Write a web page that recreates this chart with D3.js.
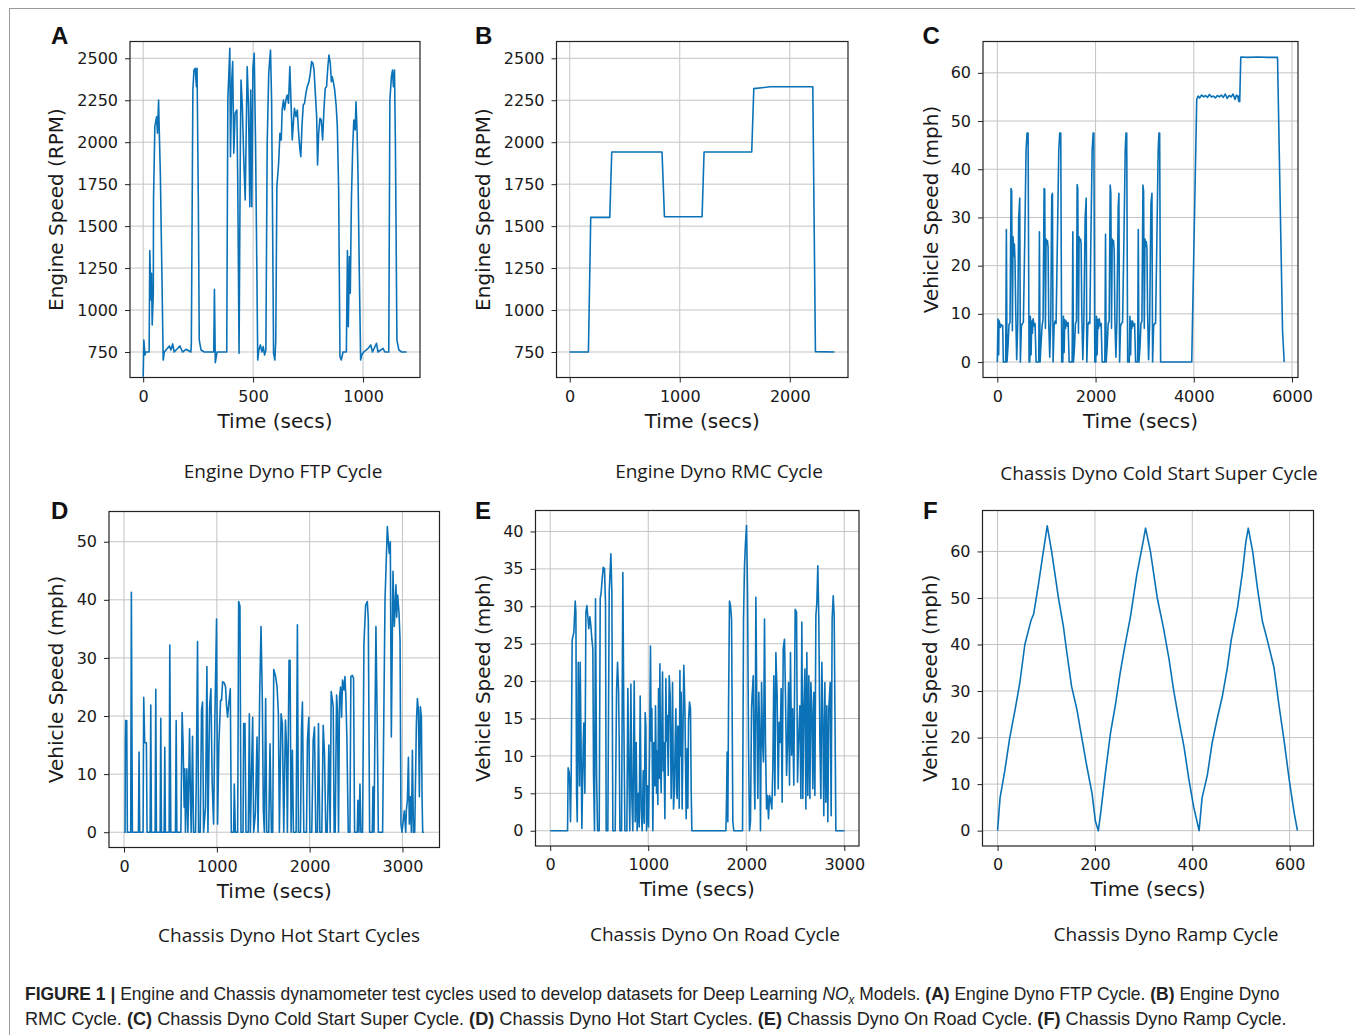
<!DOCTYPE html>
<html><head><meta charset="utf-8">
<script src="https://cdn.jsdelivr.net/npm/d3@7"></script>
<style>body{margin:0;background:#fff}</style>
</head><body>
<script>
// ---------------- DATA ----------------
// A: Engine Dyno FTP Cycle  [time (s), engine speed (RPM)]
const ftpCycle = [[0,603],[3,821],[8,732],[12,750],[27,750],[30,1354],[35,1060],[38,1219],[41,911],[46,1100],[47,1656],[53,2093],[61,2152],[65,2053],[70,2251],[73,2073],[78,1815],[85,1219],[91,702],[96,750],[119,786],[126,762],[134,798],[141,750],[167,786],[179,750],[195,766],[217,750],[219,800],[226,2311],[231,2430],[237,2440],[242,2331],[245,2440],[251,1616],[255,821],[263,762],[278,750],[321,750],[324,1123],[328,686],[336,750],[380,750],[385,2251],[394,2559],[397,1914],[403,2371],[407,2480],[412,1934],[418,2172],[426,2192],[430,1775],[436,742],[442,1993],[445,2371],[451,2212],[457,1914],[464,1656],[468,2013],[473,2450],[479,2212],[485,1616],[489,2311],[494,1616],[499,2440],[505,2529],[511,1993],[515,1497],[521,702],[526,762],[533,792],[540,750],[546,782],[552,732],[558,762],[564,1993],[571,2410],[579,2549],[584,2251],[588,1616],[593,742],[599,702],[603,821],[608,1735],[616,1874],[622,2053],[628,2013],[632,2192],[638,2251],[643,2192],[649,2251],[655,2281],[661,2232],[667,2450],[673,2212],[678,2013],[684,2132],[688,2202],[695,2152],[701,2192],[707,2053],[713,1953],[717,1914],[722,2093],[728,2222],[734,2232],[740,2291],[746,2331],[754,2361],[760,2410],[766,2480],[772,2470],[777,2430],[783,2291],[789,2152],[793,1864],[798,2053],[804,2142],[810,2132],[816,2013],[822,2192],[828,2321],[834,2331],[840,2450],[845,2519],[851,2470],[856,2361],[860,2390],[866,2351],[871,2311],[878,2212],[883,2093],[889,1715],[895,722],[901,702],[909,750],[924,750],[929,1354],[933,901],[938,1318],[942,1100],[947,1656],[953,1973],[958,2132],[964,2073],[968,2241],[973,2053],[977,1815],[983,1219],[989,702],[994,732],[1003,750],[1023,772],[1035,792],[1043,750],[1061,802],[1068,750],[1091,772],[1099,750],[1117,750],[1122,2251],[1129,2390],[1134,2430],[1138,2331],[1143,2430],[1147,2013],[1154,821],[1163,762],[1175,750],[1198,750]];

// B: Engine Dyno RMC Cycle
const rmcCycle = [[0,750],[170,750],[191,1552],[364,1552],[382,1942],[839,1942],[861,1556],[1203,1556],[1221,1942],[1654,1942],[1673,2319],[1821,2330],[2209,2330],[2233,752],[2406,750]];

// C: Chassis Dyno Cold Start Super Cycle [time (s), vehicle speed (mph)]
const coldSuperCycle = [
[0,0],[14,8.9],[27,1.5],[34,8.6],[48,8],[61,7.2],[75,7.8],[95,7.5],[109,7.6],[122,0],[170,0],[184,27.5],[197,0],[218,3.5],[238,7.8],[258,8.2],[279,36],[292,35.5],[306,6.5],[320,26],[333,22],[347,24.5],[360,21],[374,11],[394,0.5],[415,8],[435,30],[456,34],[469,0],[490,7.5],[510,8],[530,8.2],[558,25],[585,44],[605,47.5],[626,47.5],[646,0],
[660,0],[673,9.5],[687,1.5],[700,8.5],[714,6],[728,9],[748,7.5],[768,8],[789,0],[843,0],[857,27],[870,0],[891,4],[911,7.5],[931,8.8],[952,36],[965,35.8],[979,7],[992,25.5],[1006,24.5],[1020,25.2],[1033,23.8],[1047,8],[1067,1],[1088,9],[1108,34.5],[1122,35],[1135,0],[1156,7.5],[1176,8.5],[1196,8],[1224,26],[1251,44],[1271,47.5],[1291,47.5],[1311,0],
[1333,0],[1346,9.5],[1360,2],[1373,8.8],[1387,7],[1400,8.5],[1421,7.5],[1441,8.2],[1462,0],[1523,0],[1537,27],[1550,0],[1570,3],[1591,8],[1611,8.5],[1625,36.8],[1638,36],[1652,6],[1665,26],[1679,25.3],[1693,25.5],[1706,24.5],[1720,10],[1740,0.5],[1761,8],[1788,30],[1809,34],[1822,0],[1842,7.5],[1862,8.3],[1883,8],[1904,25],[1931,44],[1951,47.5],[1965,47.5],[1985,0],
[2005,0],[2019,9.5],[2032,1.5],[2046,8.8],[2060,7],[2073,9],[2094,7.5],[2114,8],[2134,0],[2189,0],[2203,26.5],[2216,0],[2237,3.5],[2257,8],[2277,8.5],[2298,36.7],[2311,35],[2325,7],[2339,25.5],[2352,25],[2366,25.2],[2380,23],[2393,9],[2414,1],[2434,8.5],[2461,32],[2475,35],[2489,0],[2509,7.5],[2529,8],[2550,8.3],[2577,25],[2604,44],[2620,47.5],[2634,47.5],[2654,0],
[2686,0],[2700,9.5],[2713,1.5],[2727,8.5],[2740,7],[2754,8.5],[2774,7.5],[2795,8],[2815,0],[2856,0],[2870,27.5],[2883,0],[2904,3],[2924,8],[2944,8.5],[2965,36.7],[2978,35.5],[2992,7],[3006,25.5],[3019,24],[3033,25],[3046,23.5],[3060,10],[3080,0.5],[3101,8],[3128,33],[3148,35],[3161,0],[3182,7.5],[3202,8],[3222,8],[3248,25],[3275,44],[3291,47.5],[3305,47.5],[3325,0],
[3958,0],[4060,54.5],[4090,55.2],[4120,54.8],[4160,55.4],[4200,55],[4240,55.3],[4280,54.9],[4320,55.5],[4360,55],[4400,55.2],[4440,54.8],[4480,55.3],[4520,55],[4560,55.4],[4600,54.9],[4640,55.6],[4680,54.7],[4720,55.3],[4760,55],[4800,55.6],[4840,54.5],[4870,55.4],[4900,55],[4915,54.1],[4925,55.3],[4935,54],[4957,63.3],[5100,63.2],[5300,63.3],[5500,63.2],[5705,63.2],[5807,6.6],[5841,0]];

// D: Chassis Dyno Hot Start Cycles
const hotStartCycles = [[0,0],[11,0],[14,15.8],[18,19.2],[29,19.2],[36,0],[72,0],[79,41.3],[90,0],[155,0],[162,13.8],[169,0],[205,0],[212,23.2],[223,15.4],[241,15.4],[248,0],[281,0],[288,21.9],[295,0],[335,0],[342,24.6],[349,0],[389,0],[396,19.6],[403,0],[432,0],[439,14.6],[446,0],[486,0],[493,32.2],[504,0],[554,0],[562,19.2],[569,0],[612,0],[626,20.6],[637,14.7],[648,4.3],[655,10.9],[662,0],[677,10.9],[688,0],[706,17.8],[716,5.5],[724,0],[738,16.5],[749,0],[770,0],[778,8.3],[792,32.8],[803,0],[821,0],[835,21],[846,22.4],[857,0],[878,4.3],[893,28.5],[904,0],[922,21.6],[936,24.7],[950,8.3],[965,1.4],[979,19.8],[997,36.7],[1008,1.4],[1022,15.2],[1040,22.7],[1051,22.7],[1062,25.9],[1080,25.7],[1094,25],[1105,21.6],[1116,19.8],[1130,22.4],[1145,24.7],[1156,0],[1181,0],[1188,8.3],[1199,0],[1224,0],[1235,39.7],[1249,38.9],[1260,0],[1282,0],[1289,18.7],[1303,18.7],[1314,0],[1339,0],[1350,20.4],[1361,0],[1386,19.8],[1397,0],[1415,3.2],[1433,16.4],[1444,0],[1462,24.2],[1476,35.4],[1490,22.7],[1501,3.7],[1512,0],[1526,23],[1537,0],[1559,0],[1573,15.2],[1588,0],[1602,0],[1613,28],[1631,27],[1649,25],[1663,20.4],[1674,0],[1692,20.4],[1706,18.7],[1721,0],[1739,19.3],[1750,15.2],[1760,0],[1778,29.6],[1789,29.6],[1800,0],[1814,14.1],[1825,0],[1854,0],[1868,35.7],[1879,0],[1901,0],[1912,17.8],[1922,22.4],[1937,0],[1966,0],[1976,15.8],[1991,19.8],[2002,0],[2023,0],[2038,15.8],[2052,18.1],[2066,0],[2084,0],[2095,18.7],[2110,0],[2131,0],[2146,18.4],[2160,13.5],[2174,0],[2189,0],[2207,15],[2221,0],[2232,24.2],[2243,23],[2254,21.6],[2264,0],[2275,0],[2290,23.6],[2300,20.7],[2311,0],[2322,23.3],[2333,25],[2344,19.8],[2354,26.2],[2369,24.5],[2380,26.8],[2390,23.3],[2401,16.4],[2416,0],[2434,0],[2444,26.8],[2459,27],[2473,26.5],[2484,0],[2513,0],[2520,5.5],[2531,0],[2542,8.3],[2552,0],[2570,0],[2585,32.5],[2603,39.1],[2621,39.7],[2632,36.5],[2646,0],[2675,0],[2682,7.8],[2693,0],[2714,35.4],[2729,17.5],[2740,0],[2786,0],[2812,40],[2837,52.6],[2848,50],[2858,48],[2869,50],[2880,16.4],[2898,44.9],[2912,35.4],[2930,42.6],[2938,37],[2948,40.8],[2963,37.7],[2974,33],[2984,1.4],[2995,0],[3020,3.7],[3035,0],[3042,3.8],[3053,5.5],[3064,12.9],[3074,1.4],[3085,6.1],[3096,0],[3107,14.1],[3118,0],[3132,0],[3150,18.7],[3161,23],[3172,21],[3182,6.1],[3193,21.6],[3204,19.8],[3211,6.1],[3218,0],[3233,0]];

// E: Chassis Dyno On Road Cycle
const onRoadCycle = [[0,0],[177,0],[183,8.4],[194,7.8],[200,6],[207,1.2],[214,7.4],[224,25.5],[241,26.5],[255,30.7],[262,29.2],[269,5],[276,1.2],[286,22.5],[289,18.7],[299,6],[306,22.5],[313,13.6],[323,0.3],[337,11.8],[343,14.4],[354,5],[364,29.2],[374,30.1],[384,28.6],[394,27],[405,28.6],[415,27.4],[425,25.6],[435,24.3],[442,7.4],[452,0],[462,31],[473,7.4],[483,0],[500,0],[510,31],[520,31.9],[530,33.6],[541,35.2],[554,35],[564,30.5],[571,0],[588,0],[602,31.9],[619,37],[629,31.9],[639,0],[663,0],[677,18.8],[687,22.5],[697,18.8],[704,11.8],[711,0],[728,0],[741,34.5],[751,15],[762,0],[782,0],[792,19],[802,8.3],[812,0],[823,19.6],[833,4.3],[843,0],[857,20],[867,1.2],[877,11.8],[887,0],[898,5],[908,0.5],[918,18],[928,3],[938,0],[949,8],[959,1],[969,15.8],[976,14],[983,0],[993,6],[1003,0.5],[1013,10],[1023,24.7],[1030,12],[1037,16.3],[1047,0],[1057,11.8],[1068,6],[1074,16.7],[1085,5],[1091,10.7],[1098,3.5],[1105,19],[1112,7],[1119,22.3],[1125,9],[1132,5.1],[1139,14],[1146,21.2],[1153,8],[1159,11.8],[1170,1.6],[1180,20.3],[1187,12],[1193,15.4],[1204,7.4],[1214,20.7],[1224,18],[1234,4.3],[1241,10],[1248,19.8],[1258,2.9],[1268,6],[1275,12],[1282,16.3],[1290,5],[1295,4.3],[1302,14],[1309,13.6],[1316,3],[1323,21.4],[1330,10],[1336,18.5],[1346,2.9],[1355,14],[1363,22.1],[1374,16.3],[1387,1.6],[1397,11],[1404,3],[1411,14.6],[1421,17.2],[1431,16.3],[1438,5.5],[1445,0],
[1792,0],[1799,4.3],[1805,10.5],[1812,1.2],[1819,16.3],[1829,30.7],[1839,30.1],[1850,28.3],[1856,16.3],[1863,1.2],[1873,0],[1962,0],[1972,28.3],[1982,35.4],[1992,38.5],[2003,40.8],[2013,31.9],[2023,11.8],[2033,0],[2043,1.2],[2054,16.3],[2060,18.1],[2071,20.7],[2081,7.4],[2088,2.9],[2098,31.2],[2108,16.3],[2118,4.3],[2128,18.5],[2139,11.8],[2145,0],[2156,19.8],[2166,11.8],[2176,9.2],[2186,28.3],[2196,11.8],[2207,2.9],[2217,4.7],[2227,1.6],[2237,4.7],[2247,4.3],[2261,2.9],[2271,8.3],[2281,20.7],[2292,4.7],[2302,23.8],[2315,18.1],[2326,5.6],[2336,14.5],[2346,11.8],[2356,19],[2366,3.8],[2377,24.3],[2390,25.6],[2400,18.1],[2411,7.4],[2421,11.8],[2431,19.8],[2441,6.1],[2451,23.8],[2462,10.1],[2472,16.3],[2485,6.1],[2499,29.6],[2513,29.2],[2523,6.5],[2533,11.8],[2547,16.7],[2557,4.3],[2567,27.9],[2577,4.3],[2587,16.3],[2598,21.6],[2608,2.9],[2618,23.8],[2628,4.7],[2638,20.7],[2649,4.3],[2659,19.8],[2669,16.3],[2679,5.6],[2689,18.5],[2700,4.7],[2710,28.7],[2720,30.5],[2730,35.4],[2740,28.3],[2751,11.8],[2761,4.3],[2771,22.5],[2781,15],[2791,2],[2802,19.8],[2812,3.8],[2822,16.7],[2832,1.2],[2842,16.3],[2856,19.8],[2866,2],[2876,28.3],[2887,31.4],[2897,28.7],[2907,11.8],[2914,0],[3002,0]];

// F: Chassis Dyno Ramp Cycle
const rampCycle = [[0,0],[5,7],[15,13],[25,20],[36,26],[46,32],[56,40],[69,45.3],[74,46.5],[84,53],[94,60],[102,65.5],[111,60],[125,50],[135,44],[142,38.5],[152,31],[163,26],[173,20],[183,14],[194,8],[201,2],[207,0],[212,4],[221,12],[232,21],[242,27],[252,34],[262,40],[273,46],[286,55],[297,61],[304,65],[314,60],[328,50],[340,44],[352,37],[362,30],[372,24],[383,18],[393,11],[403,5],[414,0],[420,7],[431,12],[441,19],[451,24],[462,29],[472,35],[480,41],[493,48],[503,55.5],[510,62],[515,65],[524,60],[534,52],[544,45],[554,41],[568,35],[578,27],[589,19],[599,11],[609,4],[616,0]];

// Tick values
const ftpXTicks = [0,500,1000];
const rmcXTicks = [0,1000,2000];
const rpmTicks = [750,1000,1250,1500,1750,2000,2250,2500];
const coldXTicks = [0,2000,4000,6000];
const coldYTicks = [0,10,20,30,40,50,60];
const hotXTicks = [0,1000,2000,3000];
const hotYTicks = [0,10,20,30,40,50];
const roadXTicks = [0,1000,2000,3000];
const roadYTicks = [0,5,10,15,20,25,30,35,40];
const rampXTicks = [0,200,400,600];
const rampYTicks = [0,10,20,30,40,50,60];

// Text
const panelLetters = ["A","B","C","D","E","F"];
const panelTitles = ["Engine Dyno FTP Cycle","Engine Dyno RMC Cycle","Chassis Dyno Cold Start Super Cycle","Chassis Dyno Hot Start Cycles","Chassis Dyno On Road Cycle","Chassis Dyno Ramp Cycle"];
const yLabels = ["Engine Speed (RPM)","Engine Speed (RPM)","Vehicle Speed (mph)","Vehicle Speed (mph)","Vehicle Speed (mph)","Vehicle Speed (mph)"];
const xLabel = "Time (secs)";

// ---------------- LAYOUT ----------------
const W = 1355, H = 1035;
const LINE = "#0b72b7";
const panels = [
  {data: ftpCycle, box:[130,41.5,420,377.5], xDom:[-60,1259], yDom:[598,2600], xt: ftpXTicks, yt: rpmTicks, ylx:58, letter:[51,44], title:[283,478]},
  {data: rmcCycle, box:[556.5,41.5,848,377.5], xDom:[-120,2529], yDom:[598,2600], xt: rmcXTicks, yt: rpmTicks, ylx:484.5, letter:[475,44], title:[719,478]},
  {data: coldSuperCycle, box:[983,41.5,1298,377.5], xDom:[-292,6122], yDom:[-3.2,66.5], xt: coldXTicks, yt: coldYTicks, ylx:932.5, letter:[922.5,44], title:[1159,480]},
  {data: hotStartCycles, box:[109,511.5,439.5,847.5], xDom:[-162,3399], yDom:[-2.63,55.2], xt: hotXTicks, yt: hotYTicks, ylx:58, letter:[51,519], title:[289,942]},
  {data: onRoadCycle, box:[535.5,510.5,859,846], xDom:[-150,3150], yDom:[-2.04,42.8], xt: roadXTicks, yt: roadYTicks, ylx:484.5, letter:[475,519], title:[715,941]},
  {data: rampCycle, box:[982.5,510.5,1313.5,846], xDom:[-31,649], yDom:[-3.3,68.8], xt: rampXTicks, yt: rampYTicks, ylx:932, letter:[923,519], title:[1166,941]}
];

const svg = d3.select("body").append("svg").attr("width", W).attr("height", H)
  .style("font-family", "'DejaVu Sans', sans-serif");
svg.append("rect").attr("width", W).attr("height", H).attr("fill", "#fff");
svg.append("rect").attr("x", 9.5).attr("y", 8.5).attr("width", 1360).attr("height", 1100)
  .attr("fill", "none").attr("stroke", "#9a9a9a").attr("stroke-width", 1);

panels.forEach((p, i) => {
  const [l, t, r, b] = p.box;
  const x = d3.scaleLinear().domain(p.xDom).range([l, r]);
  const y = d3.scaleLinear().domain(p.yDom).range([b, t]);
  const g = svg.append("g");
  // grid
  g.selectAll(".gx").data(p.xt).join("line")
    .attr("x1", d => x(d)).attr("x2", d => x(d)).attr("y1", t).attr("y2", b)
    .attr("stroke", "#c4c4c4").attr("stroke-width", 1);
  g.selectAll(".gy").data(p.yt).join("line")
    .attr("y1", d => y(d)).attr("y2", d => y(d)).attr("x1", l).attr("x2", r)
    .attr("stroke", "#c4c4c4").attr("stroke-width", 1);
  // clip
  const cid = "clip" + i;
  svg.append("clipPath").attr("id", cid).append("rect").attr("x", l).attr("y", t).attr("width", r - l).attr("height", b - t);
  g.append("path").datum(p.data)
    .attr("clip-path", `url(#${cid})`)
    .attr("d", d3.line().x(d => x(d[0])).y(d => y(d[1])))
    .attr("fill", "none").attr("stroke", LINE).attr("stroke-width", 1.6).attr("stroke-linejoin", "round");
  // axes
  const ax = g.append("g").attr("transform", `translate(0,${b})`)
    .call(d3.axisBottom(x).tickValues(p.xt).tickSize(5).tickPadding(8).tickFormat(d3.format("d")));
  const ay = g.append("g").attr("transform", `translate(${l},0)`)
    .call(d3.axisLeft(y).tickValues(p.yt).tickSize(5).tickPadding(7).tickFormat(d3.format("d")));
  [ax, ay].forEach(a => {
    a.select(".domain").remove();
    a.selectAll("line").attr("stroke", "#222").attr("stroke-width", 1);
    a.selectAll("text").attr("font-size", 16).attr("fill", "#1a1a1a").attr("font-family", "'DejaVu Sans', sans-serif");
  });
  // frame
  g.append("rect").attr("x", l).attr("y", t).attr("width", r - l).attr("height", b - t)
    .attr("fill", "none").attr("stroke", "#222").attr("stroke-width", 1.2);
  // labels
  g.append("text").attr("x", (l + r) / 2).attr("y", b + 50).attr("text-anchor", "middle")
    .attr("font-size", 20).attr("fill", "#1a1a1a").text(xLabel);
  g.append("text").attr("transform", `translate(${p.ylx + 5},${(t + b) / 2}) rotate(-90)`)
    .attr("text-anchor", "middle").attr("font-size", 20).attr("fill", "#1a1a1a").text(yLabels[i]);
  g.append("text").attr("x", p.letter[0]).attr("y", p.letter[1])
    .attr("font-family", "'Liberation Sans', Arial, sans-serif").attr("font-weight", "bold")
    .attr("font-size", 24).attr("fill", "#111").text(panelLetters[i]);
  g.append("text").attr("x", p.title[0]).attr("y", p.title[1]).attr("text-anchor", "middle")
    .attr("font-family", "'Open Sans', 'Noto Sans', sans-serif").attr("font-size", 19)
    .attr("fill", "#1a1a1a").text(panelTitles[i]);
});

// Figure caption
const capFont = "'Liberation Sans', Arial, sans-serif";
function captionLine(yBase, parts, targetW) {
  const tx = svg.append("text").attr("font-family", capFont).attr("font-size", 18).attr("fill", "#222")
    .attr("transform", `translate(25,${yBase})`);
  parts.forEach(pt => {
    const s = tx.append("tspan").text(pt.t);
    if (pt.b) s.attr("font-weight", "bold");
    if (pt.i) s.attr("font-style", "italic");
    if (pt.sub) s.attr("font-size", 12).attr("dy", 4);
    if (pt.up) s.attr("dy", -4);
  });
  const w = tx.node().getComputedTextLength();
  tx.attr("transform", `translate(25,${yBase}) scale(${targetW / w},1)`);
}
captionLine(999.5, [
  {t: "FIGURE 1 | ", b: true},
  {t: "Engine and Chassis dynamometer test cycles used to develop datasets for Deep Learning "},
  {t: "NO", i: true}, {t: "x", i: true, sub: true},
  {t: " Models. ", up: true}, {t: "(A)", b: true}, {t: " Engine Dyno FTP Cycle. "},
  {t: "(B)", b: true}, {t: " Engine Dyno"}
], 1255);
captionLine(1024.5, [
  {t: "RMC Cycle. "}, {t: "(C)", b: true}, {t: " Chassis Dyno Cold Start Super Cycle. "},
  {t: "(D)", b: true}, {t: " Chassis Dyno Hot Start Cycles. "},
  {t: "(E)", b: true}, {t: " Chassis Dyno On Road Cycle. "},
  {t: "(F)", b: true}, {t: " Chassis Dyno Ramp Cycle."}
], 1262);
</script>
</body></html>
